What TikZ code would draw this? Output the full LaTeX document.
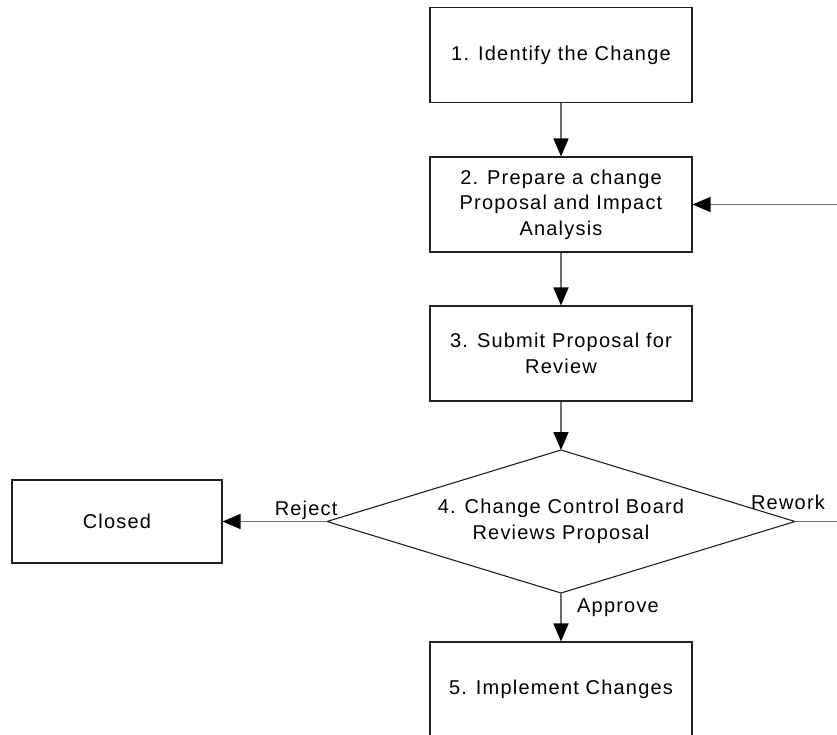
\documentclass[tikz,border=0pt]{standalone}
\usepackage{fontspec}
\setmainfont[LetterSpace=6]{Liberation Sans}
\usetikzlibrary{arrows.meta}
\definecolor{boxline}{HTML}{202020}
\definecolor{conn}{HTML}{6E6E6E}
\begin{document}
\begin{tikzpicture}[x=1pt,y=-1pt,
  lbl/.style={font=\fontsize{20}{25.5}\selectfont, align=center},
  stepbox/.style={draw=boxline, line width=1.1pt, minimum width=262pt, minimum height=95pt, inner sep=0pt, lbl},
  conn/.style={draw=conn, line width=1.6pt, -{Triangle[length=18pt,width=15pt,fill=black,color=black]}},
  plain/.style={draw=conn, line width=1.6pt}
]
\clip (0,0) rectangle (837,734);
\fill[white] (0,0) rectangle (837,734);
\node[stepbox] (s1) at (561,55) {1. Identify the Change};
\node[stepbox] (s2) at (561,204.5) {2. Prepare a change\\Proposal and Impact\\Analysis};
\node[stepbox] (s3) at (561,353.5) {3. Submit Proposal for\\Review};
% decision diamond
\coordinate (d4t) at (561,450);
\coordinate (d4l) at (327,521.5);
\coordinate (d4r) at (795,521.5);
\coordinate (d4b) at (561,593);
\draw[boxline, line width=1.1pt] (d4t) -- (d4r) -- (d4b) -- (d4l) -- cycle;
\node[lbl] (d4) at (561,521.5) {4. Change Control Board\\Reviews Proposal};
\node[stepbox, minimum width=210pt, minimum height=83pt] (cl) at (117,521.5) {Closed};
\node[stepbox] (s5) at (561,689.5) {5. Implement Changes};
\coordinate (rw) at (860,521.5);
\draw[conn] (s1) -- (s2);
\draw[conn] (s2) -- (s3);
\draw[conn] (s3) -- (d4t);
\draw[conn] (d4b) -- node[lbl, right, xshift=12pt, pos=0.3] {Approve} (s5);
\draw[conn] (d4l) -- node[lbl, above, pos=0.2, yshift=-2pt] {Reject} (cl.east);
\draw[plain] (d4r) -- (rw);
\draw[conn] (rw) |- (s2.east);
\node[lbl] (rwl) at (788,502) {Rework};
\end{tikzpicture}
\end{document}
